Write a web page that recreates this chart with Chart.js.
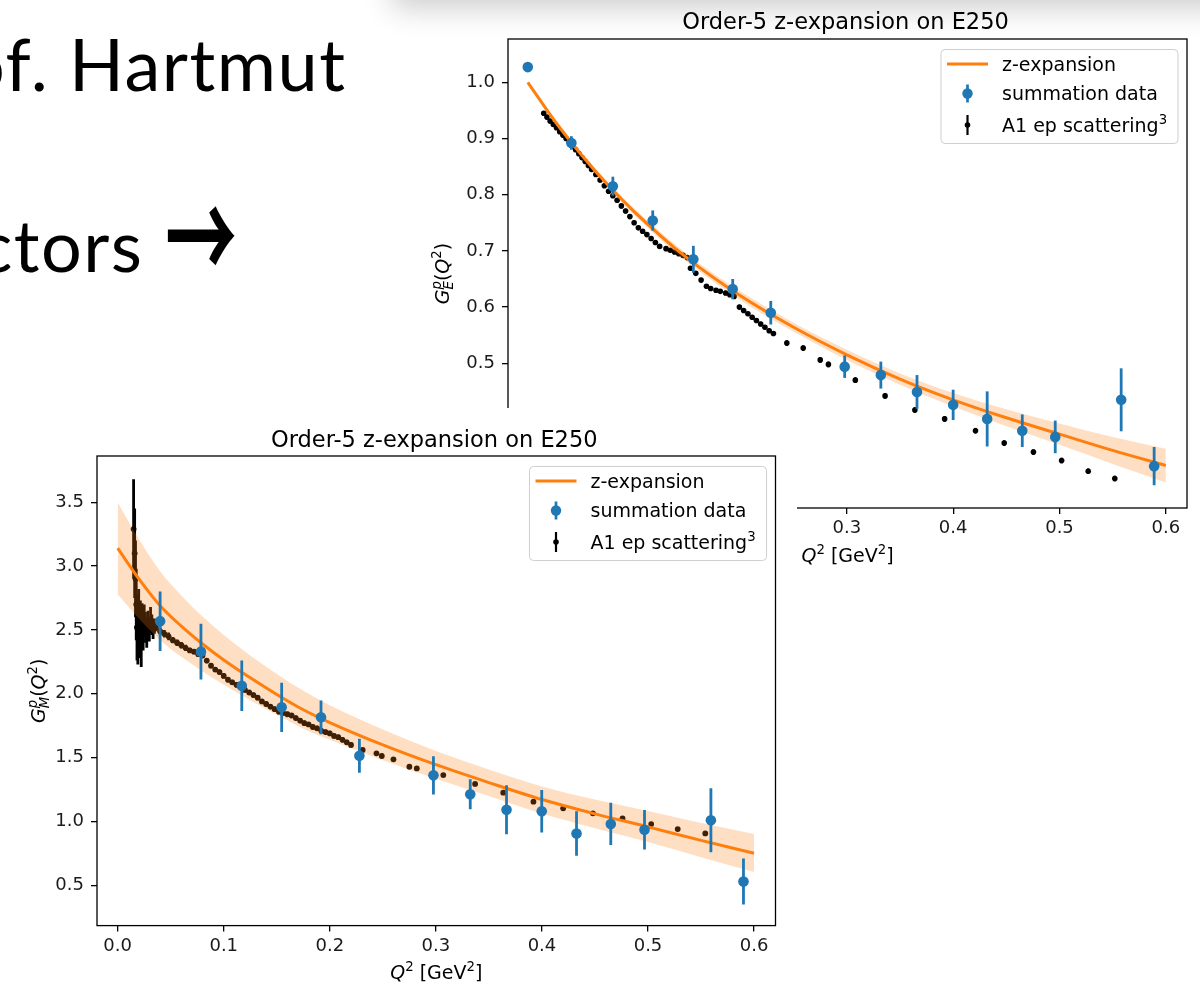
<!DOCTYPE html>
<html><head><meta charset="utf-8">
<script src="https://cdn.jsdelivr.net/npm/chart.js@4.4.0/dist/chart.umd.min.js"></script>
<style>
html,body{margin:0;padding:0;background:#fff;width:1200px;height:983px;overflow:hidden;position:relative;}
.slide{position:absolute;white-space:nowrap;font-family:Lato,"Open Sans",sans-serif;font-size:72px;line-height:72px;color:#000;letter-spacing:1.5px;}
#t1{right:853.5px;top:27px;}
#t2{right:1056.5px;top:208px;}
#arrow{position:absolute;left:165px;top:193px;font-family:"Noto Sans CJK JP","DejaVu Sans",sans-serif;font-weight:700;font-size:72px;line-height:72px;color:#000;transform:scale(1,1.7);transform-origin:50% 50%;white-space:nowrap;}
#c1{position:absolute;left:420px;top:0;}
#c2{position:absolute;left:0;top:408px;}
#shadow{position:absolute;left:400px;top:-60px;width:900px;height:60px;box-shadow:0 0 30px 8px rgba(0,0,0,0.2);background:#fff;}
</style></head>
<body>
<div class="slide" id="t1">Prof. Hartmut</div>
<div class="slide" id="t2">Form factors</div>
<div id="arrow">→</div>
<canvas id="c1" width="780" height="600"></canvas>
<div id="shadow"></div>
<canvas id="c2" width="797" height="575"></canvas>
<script>
// ---------------- Data: top chart (G_E) ----------------
const geTitle = 'Order-5 z-expansion on E250';
const geXTicks = [0.0, 0.1, 0.2, 0.3, 0.4, 0.5, 0.6];
const geYTicks = [0.3, 0.4, 0.5, 0.6, 0.7, 0.8, 0.9, 1.0];
const geCurveQ2 = [0, 0.025, 0.05, 0.075, 0.1, 0.15, 0.2, 0.25, 0.3, 0.35, 0.4, 0.45, 0.5, 0.55, 0.6];
const geCurve   = [1.000, 0.932, 0.872, 0.818, 0.770, 0.687, 0.620, 0.564, 0.515, 0.472, 0.435, 0.403, 0.374, 0.345, 0.318];
const geBandUp  = [1.002, 0.935, 0.876, 0.823, 0.776, 0.694, 0.628, 0.572, 0.524, 0.482, 0.447, 0.418, 0.393, 0.369, 0.348];
const geBandLo  = [0.998, 0.929, 0.868, 0.813, 0.764, 0.680, 0.612, 0.556, 0.506, 0.462, 0.423, 0.388, 0.355, 0.321, 0.288];
const geSumQ2  = [0.000, 0.041, 0.080, 0.1175, 0.1557, 0.1927, 0.2285, 0.298, 0.332, 0.366, 0.400, 0.432, 0.465, 0.496, 0.558, 0.589];
const geSum    = [1.027, 0.892, 0.815, 0.754, 0.685, 0.632, 0.590, 0.494, 0.479, 0.449, 0.426, 0.401, 0.380, 0.369, 0.435, 0.317];
const geSumErr = [0.007, 0.012, 0.017, 0.018, 0.024, 0.018, 0.021, 0.020, 0.024, 0.030, 0.027, 0.049, 0.029, 0.029, 0.056, 0.034];
const geA1Q2 = [0.015,0.018,0.021,0.024,0.027,0.030,0.033,0.036,0.039,0.042,0.045,0.048,0.051,0.054,0.057,0.060,
  0.064,0.068,0.072,0.076,0.080,0.084,0.088,0.092,0.096,0.100,0.104,0.108,0.112,0.116,0.120,0.124,
  0.130,0.134,0.138,0.142,0.146,0.150,
  0.153,0.158,0.163,0.168,0.172,0.177,0.181,0.186,0.190,0.194,
  0.199,0.203,0.207,0.211,0.215,0.219,0.223,0.227,0.231,
  0.2436,0.259,0.275,0.2827,0.308,0.336,0.364,0.392,0.421,0.448,0.4755,0.502,0.527,0.552];
const geA1 = [0.945,0.938,0.931,0.925,0.919,0.912,0.906,0.900,0.893,0.886,0.880,0.873,0.866,0.859,0.852,0.845,
  0.836,0.826,0.816,0.806,0.798,0.790,0.780,0.771,0.761,0.750,0.741,0.735,0.729,0.722,0.715,0.708,
  0.704,0.701,0.698,0.695,0.692,0.688,
  0.669,0.660,0.648,0.637,0.633,0.630,0.628,0.625,0.622,0.619,
  0.600,0.594,0.588,0.582,0.576,0.570,0.564,0.558,0.553,
  0.536,0.527,0.506,0.498,0.470,0.442,0.417,0.401,0.380,0.358,0.342,0.327,0.308,0.295];
const geA1Err = [0.004,0.004,0.004,0.004,0.004,0.004,0.004,0.004,0.004,0.004,0.004,0.004,0.004,0.004,0.004,0.004,
  0.004,0.004,0.004,0.004,0.004,0.004,0.004,0.004,0.004,0.004,0.004,0.004,0.004,0.004,0.004,0.004,
  0.004,0.004,0.004,0.004,0.004,0.004,
  0.004,0.004,0.004,0.004,0.004,0.004,0.004,0.004,0.004,0.004,
  0.004,0.004,0.004,0.004,0.004,0.004,0.004,0.004,0.004,
  0.005,0.005,0.005,0.005,0.005,0.005,0.005,0.005,0.005,0.005,0.005,0.005,0.005,0.005];

// ---------------- Data: bottom chart (G_M) ----------------
const gmTitle = 'Order-5 z-expansion on E250';
const gmXTicks = [0.0, 0.1, 0.2, 0.3, 0.4, 0.5, 0.6];
const gmYTicks = [0.5, 1.0, 1.5, 2.0, 2.5, 3.0, 3.5];
const gmCurveQ2 = [0, 0.02, 0.04, 0.06, 0.08, 0.1, 0.125, 0.15, 0.175, 0.2, 0.25, 0.3, 0.35, 0.4, 0.45, 0.5, 0.55, 0.6];
const gmCurve   = [3.14, 2.90, 2.69, 2.53, 2.39, 2.265, 2.125, 1.995, 1.875, 1.775, 1.600, 1.445, 1.305, 1.172, 1.060, 0.958, 0.852, 0.752];
const gmBandUp  = [3.50, 3.21, 2.96, 2.77, 2.605, 2.46, 2.30, 2.155, 2.023, 1.91, 1.72, 1.552, 1.408, 1.275, 1.172, 1.082, 0.988, 0.902];
const gmBandLo  = [2.78, 2.59, 2.42, 2.29, 2.175, 2.07, 1.95, 1.835, 1.727, 1.64, 1.48, 1.335, 1.20, 1.062, 0.947, 0.84, 0.72, 0.605];
const gmSumQ2  = [0.040, 0.0785, 0.117, 0.1546, 0.1917, 0.2279, 0.2977, 0.3324, 0.3666, 0.3998, 0.4326, 0.4649, 0.4967, 0.5593, 0.590];
const gmSum    = [2.569, 2.330, 2.063, 1.894, 1.816, 1.515, 1.362, 1.214, 1.092, 1.080, 0.906, 0.981, 0.936, 1.010, 0.530];
const gmSumErr = [0.233, 0.218, 0.197, 0.193, 0.132, 0.134, 0.150, 0.117, 0.192, 0.166, 0.175, 0.165, 0.155, 0.250, 0.180];
const gmA1LowQ2  = [0.0150,0.0160,0.0168,0.0175,0.0182,0.0190,0.0198,0.0206,0.0214,0.0222,0.0230,0.0240,0.0250,0.0262,0.0274,0.0286,0.0298,0.0310,0.0322,0.0334,0.0346];
const gmA1Low    = [3.29,3.10,2.90,2.70,2.52,2.45,2.58,2.48,2.52,2.44,2.55,2.49,2.58,2.52,2.47,2.55,2.50,2.58,2.54,2.50,2.53];
const gmA1LowErr = [0.39,0.35,0.30,0.28,0.26,0.22,0.24,0.20,0.21,0.23,0.16,0.15,0.12,0.12,0.11,0.10,0.09,0.10,0.08,0.07,0.06];
const gmA1DenseQ2 = [0.036,0.040,0.044,0.048,0.052,0.056,0.060,0.064,0.068,0.072,0.076,0.080,0.084,0.088,0.092,0.096,
  0.100,0.104,0.108,0.112,0.116,0.120,0.124,0.128,0.132,0.136,0.140,0.144,0.148,0.152,0.156,0.160,
  0.164,0.168,0.172,0.176,0.180,0.184,0.188,0.192,0.196,0.200,0.204,0.208,0.212,0.216,0.220];
const gmA1Dense = [2.52,2.49,2.47,2.45,2.42,2.40,2.38,2.36,2.34,2.33,2.31,2.30,2.26,2.22,2.19,2.17,
  2.14,2.11,2.09,2.07,2.06,2.03,2.01,1.99,1.97,1.94,1.92,1.90,1.88,1.86,1.85,1.84,
  1.83,1.81,1.79,1.77,1.76,1.74,1.73,1.71,1.70,1.69,1.67,1.66,1.64,1.62,1.60];
const gmA1DenseErr = [0.03,0.03,0.03,0.03,0.025,0.025,0.025,0.025,0.02,0.02,0.02,0.02,0.02,0.02,0.02,0.02,
  0.02,0.02,0.02,0.02,0.02,0.02,0.02,0.02,0.02,0.02,0.02,0.02,0.02,0.02,0.02,0.02,
  0.02,0.02,0.02,0.02,0.02,0.02,0.02,0.02,0.02,0.02,0.02,0.02,0.02,0.02,0.02];
const gmA1SparseQ2 = [0.231,0.244,0.249,0.260,0.275,0.282,0.307,0.337,0.3635,0.392,0.420,0.448,0.476,0.503,0.528,0.554];
const gmA1Sparse   = [1.560,1.534,1.513,1.487,1.429,1.416,1.364,1.294,1.226,1.155,1.103,1.064,1.025,0.980,0.941,0.907];
const gmA1SparseErr= [0.015,0.015,0.015,0.015,0.015,0.015,0.015,0.015,0.015,0.015,0.015,0.015,0.015,0.015,0.015,0.015];

// ---------------- Helpers ----------------
const FONT = '"DejaVu Sans", sans-serif';
const BLUE = '#1f77b4', ORANGE = '#ff7f0e';
function pts(xs, ys) { return xs.map((x, i) => ({x: x, y: ys[i]})); }

function drawRich(ctx, segs, x, y, size, align) {
  const items = []; let cx = 0, sStart = 0, sW = 0;
  for (const s of segs) {
    const fs = s.s ? size * 0.7 : size;
    const font = (s.it ? 'italic ' : '') + fs + 'px ' + FONT;
    ctx.font = font;
    const w = ctx.measureText(s.t).width;
    let dx;
    if (s.stack) { dx = sStart; cx = sStart + Math.max(sW, w); }
    else { dx = cx; if (s.s) { sStart = cx; sW = w; } cx += w; }
    const dy = s.s === 'sup' ? -0.42 * size : (s.s === 'sub' ? 0.2 * size : 0);
    items.push({font, t: s.t, dx, dy});
  }
  const x0 = align === 'center' ? x - cx / 2 : (align === 'right' ? x - cx : x);
  ctx.textAlign = 'left'; ctx.textBaseline = 'alphabetic';
  for (const it of items) { ctx.font = it.font; ctx.fillText(it.t, x0 + it.dx, y + it.dy); }
}

const errorBars = {
  id: 'errorBars',
  beforeDatasetDraw(chart, args) {
    const ds = chart.data.datasets[args.index];
    if (!ds.err) return;
    const ctx = chart.ctx, xs = chart.scales.x, ys = chart.scales.y, a = chart.chartArea;
    ctx.save();
    ctx.beginPath(); ctx.rect(a.left, a.top, a.right - a.left, a.bottom - a.top); ctx.clip();
    ctx.strokeStyle = ds.errColor; ctx.lineWidth = ds.errWidth; ctx.lineCap = 'butt';
    ds.data.forEach((p, i) => {
      const x = xs.getPixelForValue(p.x);
      ctx.beginPath();
      ctx.moveTo(x, ys.getPixelForValue(p.y - ds.err[i]));
      ctx.lineTo(x, ys.getPixelForValue(p.y + ds.err[i]));
      ctx.stroke();
    });
    ctx.restore();
  }
};

const decor = {
  id: 'decor',
  beforeDraw(chart, args, o) {
    if (o.bg) { const c = chart.ctx; c.save(); c.fillStyle = o.bg; c.fillRect(0, 0, chart.width, chart.height); c.restore(); }
  },
  afterDatasetsDraw(chart) {
    const ctx = chart.ctx, a = chart.chartArea;
    ctx.save(); ctx.strokeStyle = '#000'; ctx.lineWidth = 1.3;
    ctx.strokeRect(a.left, a.top, a.right - a.left, a.bottom - a.top);
    ctx.restore();
  },
  afterDraw(chart, args, o) {
    const ctx = chart.ctx, a = chart.chartArea;
    const cxA = (a.left + a.right) / 2, cyA = (a.top + a.bottom) / 2;
    ctx.save();
    ctx.fillStyle = '#000';
    // title
    ctx.font = '22.5px ' + FONT; ctx.textAlign = 'center'; ctx.textBaseline = 'alphabetic';
    ctx.fillText(o.title, cxA - 2, o.titleY);
    // x label
    drawRich(ctx, [{t:'Q', it:1}, {t:'2', s:'sup'}, {t:' [GeV'}, {t:'2', s:'sup'}, {t:']'}], cxA, o.xLabelY, 19, 'center');
    // y label
    ctx.save();
    ctx.translate(o.yLabelX, cyA); ctx.rotate(-Math.PI / 2);
    drawRich(ctx, [{t:'G', it:1}, {t:o.sub, it:1, s:'sub'}, {t:'p', it:1, s:'sup', stack:1}, {t:'('}, {t:'Q', it:1}, {t:'2', s:'sup'}, {t:')'}], 0, 0, 19, 'center');
    ctx.restore();
    // legend
    const w = 237, h = 94, x0 = a.right - 9 - w, y0 = a.top + 10.5;
    ctx.beginPath();
    if (ctx.roundRect) ctx.roundRect(x0, y0, w, h, 4); else ctx.rect(x0, y0, w, h);
    ctx.fillStyle = 'rgba(255,255,255,0.8)'; ctx.fill();
    ctx.strokeStyle = '#cfcfcf'; ctx.lineWidth = 1; ctx.stroke();
    const r = [y0 + 14.5, y0 + 44, y0 + 75.5];
    const hx = x0 + 26.5;
    ctx.strokeStyle = ORANGE; ctx.lineWidth = 2.8;
    ctx.beginPath(); ctx.moveTo(x0 + 6, r[0]); ctx.lineTo(x0 + 47, r[0]); ctx.stroke();
    ctx.strokeStyle = BLUE; ctx.lineWidth = 2.7;
    ctx.beginPath(); ctx.moveTo(hx, r[1] - 9); ctx.lineTo(hx, r[1] + 9); ctx.stroke();
    ctx.fillStyle = BLUE; ctx.beginPath(); ctx.arc(hx, r[1], 5.2, 0, Math.PI * 2); ctx.fill();
    ctx.strokeStyle = '#000'; ctx.lineWidth = 2.2;
    ctx.beginPath(); ctx.moveTo(hx, r[2] - 10); ctx.lineTo(hx, r[2] + 10); ctx.stroke();
    ctx.fillStyle = '#000'; ctx.beginPath(); ctx.arc(hx, r[2], 2.8, 0, Math.PI * 2); ctx.fill();
    ctx.fillStyle = '#000';
    const fs = 19, tx = x0 + 61;
    drawRich(ctx, [{t:'z-expansion'}], tx, r[0] + 0.36 * fs, fs, 'left');
    drawRich(ctx, [{t:'summation data'}], tx, r[1] + 0.36 * fs, fs, 'left');
    drawRich(ctx, [{t:'A1 ep scattering'}, {t:'3', s:'sup'}], tx, r[2] + 0.36 * fs, fs, 'left');
    ctx.restore();
  }
};

function axis(min, max, ticks, fit, isX) {
  return {
    type: 'linear', min: min, max: max,
    afterFit: s => { if (isX) s.height = fit; else s.width = fit; },
    afterBuildTicks: s => { s.ticks = ticks.map(v => ({value: v})); },
    ticks: {autoSkip: false, maxRotation: 0, padding: isX ? 3.5 : 7, color: '#1a1a1a',
            font: {family: FONT, size: 18}, callback: v => Number(v).toFixed(1)},
    grid: {display: true, drawOnChartArea: false, drawTicks: true, tickLength: 6, color: '#000', lineWidth: 1.3},
    border: {display: false}
  };
}

function build(id, d) {
  const datasets = [
    {data: pts(d.sumQ2, d.sum), err: d.sumErr, errColor: BLUE, errWidth: 2.8, showLine: false,
     pointRadius: 5.3, pointHoverRadius: 5.3, pointBackgroundColor: BLUE, pointBorderWidth: 0},
    {data: pts(d.curveQ2, d.curve), showLine: true, borderColor: ORANGE, borderWidth: 3, pointRadius: 0,
     cubicInterpolationMode: 'monotone', fill: false},
    {data: pts(d.curveQ2, d.bandUp), showLine: true, borderColor: 'rgba(0,0,0,0)', borderWidth: 0, pointRadius: 0,
     cubicInterpolationMode: 'monotone', fill: '+1', backgroundColor: 'rgba(255,127,14,0.25)'},
    {data: pts(d.curveQ2, d.bandLo), showLine: true, borderColor: 'rgba(0,0,0,0)', borderWidth: 0, pointRadius: 0,
     cubicInterpolationMode: 'monotone', fill: false},
    {data: pts(d.a1Q2, d.a1), err: d.a1Err, errColor: '#000', errWidth: d.a1ErrW, showLine: false,
     pointRadius: d.a1R, pointHoverRadius: d.a1R, pointBackgroundColor: '#000', pointBorderWidth: 0}
  ];
  return new Chart(document.getElementById(id), {
    type: 'scatter',
    data: {datasets},
    plugins: [errorBars, decor],
    options: {
      responsive: false, animation: false, events: [],
      layout: {padding: d.pad},
      plugins: {legend: {display: false}, tooltip: {enabled: false}, title: {display: false},
                decor: {bg: d.bg, title: d.title, titleY: d.titleY, xLabelY: d.xLabelY, yLabelX: d.yLabelX, sub: d.sub}},
      scales: {x: axis(d.xMin, d.xMax, d.xTicks, d.xH, true), y: axis(d.yMin, d.yMax, d.yTicks, d.yW, false)}
    }
  });
}

build('c1', {
  title: geTitle, sub: 'E', bg: null,
  sumQ2: geSumQ2, sum: geSum, sumErr: geSumErr,
  curveQ2: geCurveQ2, curve: geCurve, bandUp: geBandUp, bandLo: geBandLo,
  a1Q2: geA1Q2, a1: geA1, a1Err: geA1Err, a1R: 2.8, a1ErrW: 2.4,
  xTicks: geXTicks, yTicks: geYTicks,
  xMin: -0.0186, xMax: 0.6199, yMin: 0.2425, yMax: 1.077,
  pad: {left: 0, top: 39, right: 13, bottom: 32}, xH: 60, yW: 88,
  titleY: 28.5, xLabelY: 561.5, yLabelX: 29
});

build('c2', {
  title: gmTitle, sub: 'M', bg: '#fff',
  sumQ2: gmSumQ2, sum: gmSum, sumErr: gmSumErr,
  curveQ2: gmCurveQ2, curve: gmCurve, bandUp: gmBandUp, bandLo: gmBandLo,
  a1Q2: [...gmA1LowQ2, ...gmA1DenseQ2, ...gmA1SparseQ2],
  a1: [...gmA1Low, ...gmA1Dense, ...gmA1Sparse],
  a1Err: [...gmA1LowErr, ...gmA1DenseErr, ...gmA1SparseErr], a1R: 2.9, a1ErrW: 2.8,
  xTicks: gmXTicks, yTicks: gmYTicks,
  xMin: -0.0195, xMax: 0.6202, yMin: 0.185, yMax: 3.862,
  pad: {left: 0, top: 48, right: 21.5, bottom: 12.4}, xH: 45, yW: 97,
  titleY: 39, xLabelY: 571, yLabelX: 45
});
</script>
</body></html>
